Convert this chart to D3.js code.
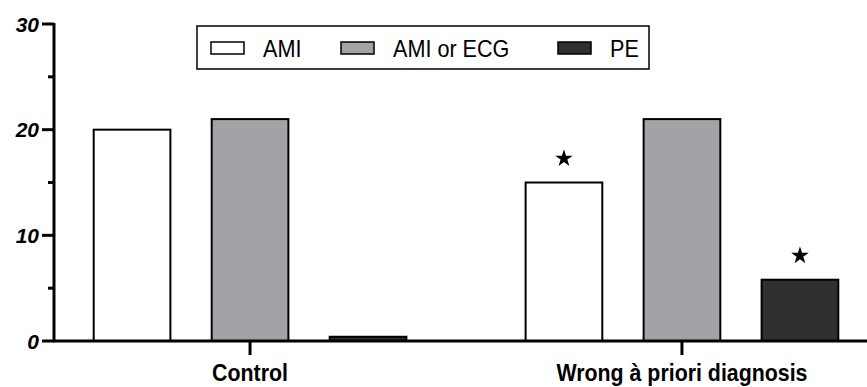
<!DOCTYPE html>
<html lang="en">
<head>
  <meta charset="utf-8">
  <script src="https://d3js.org/d3.v7.min.js"></script>
  <style>
    body { margin: 0; background: #fff; }
    text { font-family: "Liberation Sans", Arial, sans-serif; }
  </style>
</head>
<body>
<svg width="867" height="387"></svg>
<script>
  // data
  var groups = ["Control", "Wrong à priori diagnosis"];
  var series = ["AMI", "AMI or ECG", "PE"];
  var amiValues = [20, 15];
  var amiEcgValues = [21, 21];
  var peValues = [0.4, 5.8];
  var significant = [[false, false, false], [true, false, true]];
  var yTicks = [0, 10, 20, 30];
  var yMinorTicks = [5, 15, 25];

  var colors = { "AMI": "#ffffff", "AMI or ECG": "#a3a2a7", "PE": "#303030" };
  var values = { "AMI": amiValues, "AMI or ECG": amiEcgValues, "PE": peValues };

  var svg = d3.select("svg");

  var y = d3.scaleLinear().domain([0, 30]).range([341, 24]);
  var x0 = d3.scalePoint().domain(groups).range([60, 872]).padding(0.44);
  var x1 = d3.scaleBand().domain(series).range([-177, 177])
      .paddingInner(0.35).paddingOuter(0.175);

  /* bars */
  var g = svg.selectAll("g.group")
    .data(groups)
    .enter().append("g")
      .attr("class", "group")
      .attr("transform", function(d) { return "translate(" + x0(d) + ",0)"; });

  g.selectAll("rect")
    .data(function(d, i) { return series.map(function(s) { return { s: s, v: values[s][i] }; }); })
    .enter().append("rect")
      .attr("x", function(d) { return x1(d.s); })
      .attr("y", function(d) { return y(d.v); })
      .attr("width", x1.bandwidth())
      .attr("height", function(d) { return y(0) - y(d.v); })
      .attr("fill", function(d) { return colors[d.s]; })
      .attr("stroke", "#000")
      .attr("stroke-width", 2);

  /* stars */
  g.selectAll("path.star")
    .data(function(d, i) {
      return series.map(function(s, j) { return { s: s, v: values[s][i], sig: significant[i][j] }; })
        .filter(function(d) { return d.sig; });
    })
    .enter().append("path")
      .attr("class", "star")
      .attr("d", d3.symbol().type(d3.symbolStar).size(95))
      .attr("transform", function(d) { return "translate(" + (x1(d.s) + x1.bandwidth() / 2) + "," + (y(d.v) - 24) + ")"; })
      .attr("fill", "#000");

  /* y axis */
  var yAxis = svg.append("g").attr("transform", "translate(54,0)");
  yAxis.append("line").attr("x1", 0).attr("x2", 0).attr("y1", y(30) - 1).attr("y2", y(0))
      .attr("stroke", "#000").attr("stroke-width", 3);
  yAxis.selectAll("line.major").data(yTicks).enter().append("line")
      .attr("x1", -12).attr("x2", 0)
      .attr("y1", function(d) { return y(d); }).attr("y2", function(d) { return y(d); })
      .attr("stroke", "#000").attr("stroke-width", 3);
  yAxis.selectAll("line.minor").data(yMinorTicks).enter().append("line")
      .attr("x1", -6).attr("x2", 0)
      .attr("y1", function(d) { return y(d); }).attr("y2", function(d) { return y(d); })
      .attr("stroke", "#000").attr("stroke-width", 3);
  yAxis.selectAll("text").data(yTicks).enter().append("text")
      .attr("x", -15).attr("y", function(d) { return y(d); })
      .attr("dy", "0.36em")
      .attr("text-anchor", "end")
      .style("font-weight", "bold").style("font-style", "italic")
      .style("font-size", "21px")
      .text(function(d) { return d; });

  /* x axis */
  svg.append("line").attr("x1", 53).attr("x2", 867).attr("y1", y(0)).attr("y2", y(0))
      .attr("stroke", "#000").attr("stroke-width", 3);
  svg.selectAll("line.xtick").data(groups).enter().append("line")
      .attr("x1", function(d) { return x0(d); }).attr("x2", function(d) { return x0(d); })
      .attr("y1", y(0)).attr("y2", y(0) + 14)
      .attr("stroke", "#000").attr("stroke-width", 3);
  svg.selectAll("text.xlabel").data(groups).enter().append("text")
      .attr("class", "xlabel")
      .attr("transform", function(d) { return "translate(" + x0(d) + ",381) scale(0.89,1)"; })
      .attr("text-anchor", "middle")
      .style("font-weight", "bold").style("font-size", "24px")
      .text(function(d) { return d; });

  /* legend */
  var legend = svg.append("g");
  legend.append("rect").attr("x", 197).attr("y", 26).attr("width", 452).attr("height", 43)
      .attr("fill", "#fff").attr("stroke", "#000").attr("stroke-width", 1.5);
  var legendX = [211, 341, 558];
  var item = legend.selectAll("g.item").data(series).enter().append("g")
      .attr("transform", function(d, i) { return "translate(" + legendX[i] + ",0)"; });
  item.append("rect").attr("x", 0).attr("y", 42).attr("width", 33).attr("height", 12)
      .attr("fill", function(d) { return colors[d]; })
      .attr("stroke", "#000").attr("stroke-width", 1.5);
  item.append("text")
      .attr("transform", "translate(52,57) scale(0.9,1)")
      .style("font-size", "24px")
      .text(function(d) { return d; });
</script>
</body>
</html>
